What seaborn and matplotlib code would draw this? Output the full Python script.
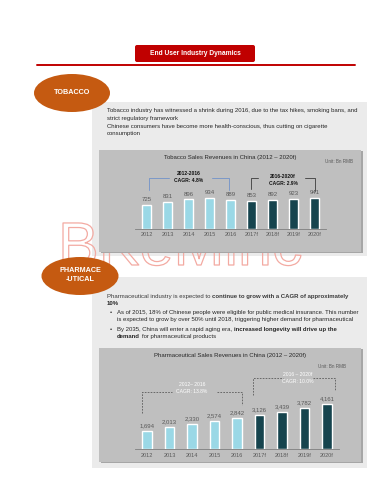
import matplotlib
matplotlib.use('Agg')
import matplotlib.pyplot as plt
import matplotlib.patheffects as pe
import seaborn as sns
import pandas as pd
from matplotlib.patches import Ellipse, FancyBboxPatch, Rectangle

# ---------------- data ----------------
years = ['2012', '2013', '2014', '2015', '2016', '2017f', '2018f', '2019f', '2020f']
period = ['Actual'] * 5 + ['Forecast'] * 4
tobacco_values = [725, 831, 896, 934, 889, 853, 892, 923, 941]
pharma_values = [1694, 2013, 2330, 2574, 2842, 3126, 3439, 3782, 4161]

tobacco_cagr = [("2012-2016", "CAGR: 4.8%"), ("2016-2020f", "CAGR: 2.9%")]
pharma_cagr = [("2012\u2013 2016", "CAGR: 13.8%"), ("2016 \u2013 2020f", "CAGR: 10.0%")]

page_title = "End User Industry Dynamics"
tobacco_title = "Tobacco Sales Revenues in China (2012 \u2013 2020f)"
pharma_title = "Pharmaceutical Sales Revenues in China (2012 \u2013 2020f)"
unit_text = "Unit: Bn RMB"

tobacco_lines = [
    "Tobacco industry has witnessed a shrink during 2016, due to the tax hikes, smoking bans, and",
    "strict regulatory framework",
    "Chinese consumers have become more health-conscious, thus cutting on cigarette",
    "consumption",
]

# ---------------- style ----------------
sns.set_theme(style="white")
plt.rcParams['font.family'] = ['Liberation Sans', 'DejaVu Sans']

LIGHT = "#9ad8e6"
DARK = "#16444e"
ORANGE = "#c55a11"
RED = "#c00000"
BOX = "#ebebeb"
PANEL = "#bfbfbf"
TXT = "#262626"
GREY = "#595959"

W, H = 388, 486
fig = plt.figure(figsize=(W / 100, H / 100), dpi=100)
fig.patch.set_facecolor("white")

bg = fig.add_axes([0, 0, 1, 1], zorder=0)
bg.set_xlim(0, W)
bg.set_ylim(H, 0)
bg.axis('off')


def fig_rect(left, top, right, bottom):
    return [left / W, 1 - bottom / H, (right - left) / W, (bottom - top) / H]


# page header
bg.add_patch(FancyBboxPatch((135, 45), 120, 17, boxstyle="round,pad=0,rounding_size=2",
                            fc=RED, ec="none", zorder=2))
bg.text(195, 53.5, page_title, color="white", fontsize=4.8, weight="bold",
        ha="center", va="center", zorder=3)
bg.plot([37, 355], [65.5, 65.5], color=RED, lw=1.4, zorder=2)

# outer grey boxes
bg.add_patch(Rectangle((92, 102), 275, 154, fc=BOX, ec="none", zorder=1))
bg.add_patch(Rectangle((92, 277), 275, 191, fc=BOX, ec="none", zorder=1))

# watermark (faint outlined logo text)
wm = bg.text(58, 265, "BKeMinc", fontsize=44, color="none", ha="left", va="baseline",
             zorder=1.5)
wm.set_path_effects([pe.Stroke(linewidth=0.9, foreground="#f3aaa2")])

# chart panels
for top, bottom in [(150, 252), (348, 462)]:
    bg.add_patch(Rectangle((100.5, top + 1), 262, bottom - top, fc="#a6a6a6", ec="none", zorder=2))
    bg.add_patch(Rectangle((99, top), 262, bottom - top, fc=PANEL, ec="none", zorder=2.1))

# ellipses
bg.add_patch(Ellipse((72, 93), 76, 38, fc=ORANGE, ec="none", zorder=3))
bg.text(72, 93, "TOBACCO", color="white", fontsize=5.2, weight="bold",
        ha="center", va="center", zorder=4)
bg.add_patch(Ellipse((80, 276), 77, 38, fc=ORANGE, ec="none", zorder=3))
bg.text(80, 270.5, "PHARMACE", color="white", fontsize=5.2, weight="bold",
        ha="center", va="center", zorder=4)
bg.text(80, 279.5, "-UTICAL", color="white", fontsize=5.2, weight="bold",
        ha="center", va="center", zorder=4)

FS = 4.35

# tobacco text
for y, line in zip([110, 118, 126, 133.5], tobacco_lines):
    bg.text(107, y, line, fontsize=FS, color=TXT, ha="left", va="center", zorder=4)


def rich(x, y, parts, color=TXT):
    prev = None
    for s, bold in parts:
        kw = dict(fontsize=FS, color=color, weight="bold" if bold else "normal", zorder=4)
        if prev is None:
            prev = bg.text(x, y, s, ha="left", va="center", **kw)
        else:
            prev = bg.annotate(s, xy=(1, 0.5), xycoords=prev, xytext=(1.2, 0),
                               textcoords="offset points", ha="left", va="center", **kw)


rich(107, 296, [("Pharmaceutical industry is expected to", False),
                ("continue to grow with a CAGR of approximately", True)], color="#3a3a3a")
rich(107, 303, [("10%", True)])
bg.text(110, 312, "\u2022", fontsize=FS, color=TXT, ha="left", va="center", zorder=4)
rich(117, 312, [("As of 2015, 18% of Chinese people were eligible for public medical insurance. This number", False)])
rich(117, 319, [("is expected to grow by over 50% until 2018, triggering higher demand for pharmaceutical", False)])
bg.text(110, 329, "\u2022", fontsize=FS, color=TXT, ha="left", va="center", zorder=4)
rich(117, 329, [("By 2035, China will enter a rapid aging era,", False),
                ("increased longevity will drive up the", True)])
rich(117, 336, [("demand", True), ("for pharmaceutical products", False)])

# panel titles and units
bg.text(230, 157, tobacco_title, fontsize=4.3, color=TXT, ha="center", va="center", zorder=4)
bg.text(353, 161, unit_text, fontsize=3.3, color=GREY, ha="right", va="center", zorder=4)
bg.text(230, 355, pharma_title, fontsize=4.3, color=TXT, ha="center", va="center", zorder=4)
bg.text(346, 366, unit_text, fontsize=3.3, color=GREY, ha="right", va="center", zorder=4)

palette = {"Actual": LIGHT, "Forecast": DARK}


def bar_chart(rect, values, ylim, width, fmt, pad):
    ax = fig.add_axes(rect, zorder=5)
    ax.patch.set_alpha(0)
    df = pd.DataFrame({"year": years, "value": values, "period": period})
    sns.barplot(data=df, x="year", y="value", hue="period", palette=palette,
                dodge=False, width=width, legend=False, ax=ax, saturation=1)
    ax.set_xlim(-0.55, 8.55)
    ax.set_ylim(0, ylim)
    for c in ax.containers:
        ax.bar_label(c, fmt=fmt, padding=2, fontsize=4.3, color=GREY)
    ax.set_xlabel("")
    ax.set_ylabel("")
    ax.set_yticks([])
    ax.tick_params(axis="x", length=0, pad=pad, labelsize=4.0, labelcolor=GREY)
    for s in ["top", "left", "right"]:
        ax.spines[s].set_visible(False)
    ax.spines["bottom"].set_color("#7f7f7f")
    ax.spines["bottom"].set_linewidth(0.6)
    return ax


# tobacco chart: baseline y=229, bar centres 146.5 .. 314.5
ax1 = bar_chart(fig_rect(146.5 - 0.55 * 21, 165, 146.5 + 8.55 * 21, 229),
                tobacco_values, 64 / 0.033, 0.43, "{:,.0f}", 2.2)
# brackets (tobacco)
lb = "#7b98c8"
ax1.plot([0.1, 0.1, 1.07], [1180, 1545, 1545], color=lb, lw=0.7, clip_on=False)
ax1.plot([3.12, 3.95, 3.95], [1545, 1545, 1180], color=lb, lw=0.7, clip_on=False)
ax1.text(2.02, 1667, tobacco_cagr[0][0], fontsize=3.6, weight="bold", color="#111111",
         ha="center", va="center", clip_on=False)
ax1.text(2.02, 1455, tobacco_cagr[0][1], fontsize=3.6, weight="bold", color="#111111",
         ha="center", va="center", clip_on=False)
dg = "#4d4d4d"
ax1.plot([4.98, 4.98, 5.31], [1212, 1545, 1545], color=dg, lw=0.7, clip_on=False)
ax1.plot([7.55, 8.02, 8.02], [1545, 1545, 1152], color=dg, lw=0.7, clip_on=False)
ax1.text(6.5, 1606, tobacco_cagr[1][0], fontsize=3.6, weight="bold", color="#111111",
         ha="center", va="center", clip_on=False)
ax1.text(6.5, 1364, tobacco_cagr[1][1], fontsize=3.6, weight="bold", color="#111111",
         ha="center", va="center", clip_on=False)

# pharma chart: baseline y=449, bar centres 147 .. 327
ax2 = bar_chart(fig_rect(147 - 0.55 * 22.5, 360, 147 + 8.55 * 22.5, 449),
                pharma_values, 89 / 0.0108, 0.42, "{:,.0f}", 3.0)
dk = dict(color="#5a5a5a", lw=0.6, ls=(0, (2, 1.5)), clip_on=False)
ax2.plot([-0.22, -0.22, 1.11], [3333, 5278, 5278], **dk)
ax2.plot([3.11, 4.22, 4.22], [5278, 5278, 4074], **dk)
ax2.text(2.0, 5926, pharma_cagr[0][0], fontsize=3.6, color="white", ha="center", va="center")
ax2.text(2.0, 5278, pharma_cagr[0][1], fontsize=3.6, color="white", ha="center", va="center")
ax2.plot([4.71, 4.71, 6.04], [5000, 6574, 6574], **dk)
ax2.plot([7.38, 8.36, 8.36], [6574, 6574, 5463], **dk)
ax2.text(6.7, 6852, pharma_cagr[1][0], fontsize=3.6, color="white", ha="center", va="center")
ax2.text(6.7, 6296, pharma_cagr[1][1], fontsize=3.6, color="white", ha="center", va="center")

fig.savefig("out.png", dpi=100, facecolor="white")
